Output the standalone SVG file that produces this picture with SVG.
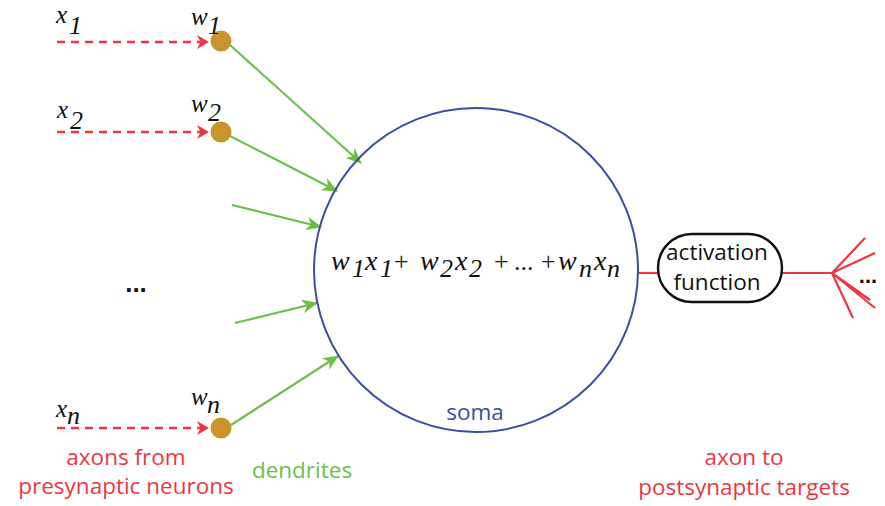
<svg xmlns="http://www.w3.org/2000/svg" width="885" height="506" viewBox="0 0 885 506">
<style>
.m{font-family:"Liberation Serif","DejaVu Serif",serif;font-style:italic;font-size:25px;fill:#111}
.f{font-family:"Liberation Serif","DejaVu Serif",serif;font-style:italic;font-size:28px;fill:#111}
.sb{font-size:26px}
.pl{font-style:normal;font-size:26px}
.s{font-family:"Open Sans","Liberation Sans",sans-serif;font-size:22.5px}
.ax{stroke:#ee3640;stroke-width:2.4;stroke-dasharray:8,6;fill:none}
.de{stroke:#6cc04a;stroke-width:2.2;fill:none}
.dot{fill:#c8952d}
.rl{stroke:#ee3640;stroke-width:2.2;fill:none}
</style>
<defs>
<marker id="ra" viewBox="0 0 12 14" refX="11" refY="7" markerWidth="12" markerHeight="14" orient="auto" markerUnits="userSpaceOnUse">
<path d="M0,0 L12,7 L0,14 L3.5,7 Z" fill="#ee3640"/>
</marker>
<marker id="ga" viewBox="0 0 14 12" refX="13" refY="6" markerWidth="16" markerHeight="14" orient="auto" markerUnits="userSpaceOnUse">
<path d="M0,0 L14,6 L0,12 L4,6 Z" fill="#6cc04a"/>
</marker>
</defs>
<g id="connectors">
<line class="ax" x1="57" y1="42" x2="208" y2="42" marker-end="url(#ra)"/>
<line class="ax" x1="57" y1="132" x2="208" y2="132" marker-end="url(#ra)"/>
<line class="ax" x1="57" y1="428" x2="208" y2="428" marker-end="url(#ra)"/>
<line class="de" x1="230" y1="45" x2="361" y2="163" marker-end="url(#ga)"/>
<line class="de" x1="230" y1="136" x2="337" y2="191" marker-end="url(#ga)"/>
<line class="de" x1="232" y1="205" x2="321" y2="227" marker-end="url(#ga)"/>
<line class="de" x1="235" y1="323" x2="317" y2="303" marker-end="url(#ga)"/>
<line class="de" x1="231" y1="425" x2="338" y2="356" marker-end="url(#ga)"/>
<line class="rl" x1="638" y1="273" x2="658" y2="273"/>
<line class="rl" x1="782" y1="273" x2="832" y2="273"/>
<path class="rl" d="M832,273 L865,238 M832,273 L875,253 M832,273 L870,300 M832,273 L875,308 M832,273 L853,318"/>
</g>
<g id="input1">
<circle class="dot" cx="221" cy="41" r="10.5"/>
<text class="m" x="56" y="23">x</text><text class="m sb" x="69" y="34">1</text>
<text class="m" x="191" y="25">w</text><text class="m sb" x="208" y="34">1</text>
</g>
<g id="input2">
<circle class="dot" cx="221" cy="132" r="10.5"/>
<text class="m" x="57" y="118">x</text><text class="m sb" x="70" y="129">2</text>
<text class="m" x="191" y="112">w</text><text class="m sb" x="208" y="121">2</text>
</g>
<g id="inputn">
<circle class="dot" cx="221" cy="428" r="10.5"/>
<text class="m" x="56" y="417">x</text><text class="m sb" x="67" y="424">n</text>
<text class="m" x="191" y="405">w</text><text class="m sb" x="207" y="413">n</text>
</g>
<g id="ellipsis-in">
<text x="136" y="292" text-anchor="middle" font-family="Liberation Sans,sans-serif" font-weight="bold" font-size="26" fill="#111">...</text>
</g>
<g id="soma">
<circle cx="476" cy="270" r="162" fill="none" stroke="#3c4da5" stroke-width="2"/>
<text class="f" x="331" y="270">w</text><text class="f sb" x="352" y="277">1</text>
<text class="f" x="365" y="270">x</text><text class="f sb" x="380" y="277">1</text>
<text class="f pl" x="394" y="270">+</text>
<text class="f" x="420" y="270">w</text><text class="f sb" x="440" y="277">2</text>
<text class="f" x="455" y="270">x</text><text class="f sb" x="469" y="277">2</text>
<text class="f pl" x="494" y="270">+</text>
<text class="f pl" x="514" y="270">...</text>
<text class="f pl" x="541" y="270">+</text>
<text class="f" x="558" y="270">w</text><text class="f sb" x="579" y="277">n</text>
<text class="f" x="594" y="270">x</text><text class="f sb" x="607" y="277">n</text>
<text class="s" x="475" y="420" text-anchor="middle" fill="#3c4da5">soma</text>
</g>
<g id="activation">
<rect x="658" y="234" width="124" height="68" rx="34" ry="34" fill="#fff" stroke="#111" stroke-width="2.4"/>
<text class="s" x="717" y="260" text-anchor="middle" fill="#111" font-size="24">activation</text>
<text class="s" x="717" y="290" text-anchor="middle" fill="#111" font-size="24">function</text>
</g>
<g id="ellipsis-out">
<text x="868" y="283" text-anchor="middle" font-family="Liberation Sans,sans-serif" font-weight="bold" font-size="22" fill="#111">...</text>
</g>
<g id="labels">
<text class="s" x="126" y="465" text-anchor="middle" fill="#ee3640">axons from</text>
<text class="s" x="126" y="494" text-anchor="middle" fill="#ee3640">presynaptic neurons</text>
<text class="s" x="302" y="478" text-anchor="middle" fill="#6cc04a">dendrites</text>
<text class="s" x="744" y="465" text-anchor="middle" fill="#ee3640">axon to</text>
<text class="s" x="744" y="495" text-anchor="middle" fill="#ee3640">postsynaptic targets</text>
</g>
</svg>
